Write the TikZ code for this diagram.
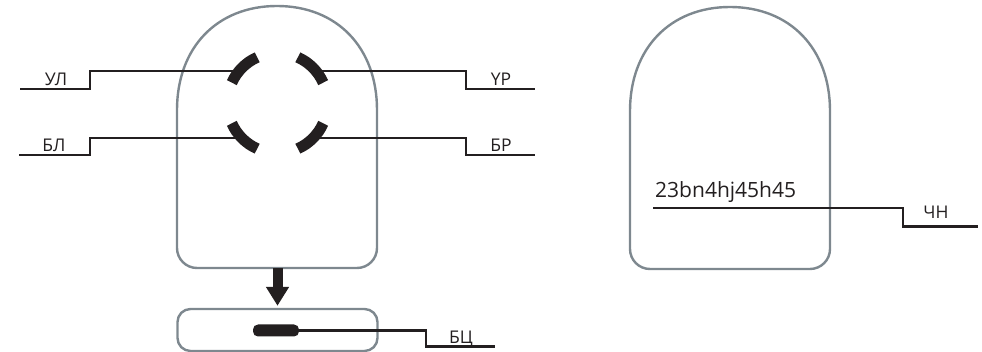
\documentclass[tikz,border=0pt]{standalone}
\usepackage{fontspec}
\setmainfont{Open Sans}
\usetikzlibrary{arrows.meta}
\definecolor{domegray}{HTML}{7E888F}
\definecolor{ink}{HTML}{231F20}
\begin{document}
\begin{tikzpicture}[x=1pt,y=-1pt,
  domeline/.style={draw=domegray,line width=2.4pt},
  wire/.style={draw=ink,line width=2.6pt,line join=miter},
  arcseg/.style={draw=ink,line width=11pt,line cap=butt},
  lbl/.style={font=\fontsize{17.5}{18}\selectfont,text=ink,inner sep=0pt,anchor=base},
  bigtext/.style={font=\fontsize{21}{22}\selectfont,text=ink,inner sep=0pt,anchor=base west},
  bigarrow/.style={draw=ink,line width=10pt,-{Triangle[length=19pt,width=22pt]}},
  domeshape/.pic={\draw[domeline] (-100,104) .. controls (-100,41.6) and (-60,0) .. (0,0) .. controls (60,0) and (100,41.6) .. (100,104) -- (100,242) arc[start angle=0,end angle=90,radius=20] -- (-80,262) arc[start angle=90,end angle=180,radius=20] -- cycle;}
]
\useasboundingbox (0,0) rectangle (982,352);

% domes
\pic at (277,6) {domeshape};
\pic at (730,7) {domeshape};

% coordinates
\coordinate (ctr) at (277.5,103);
\coordinate (ulA) at (20,89);
\coordinate (ulStep) at (90,89);
\coordinate (ulEnd) at (239,71);
\coordinate (blA) at (19,155);
\coordinate (blStep) at (90,155);
\coordinate (blEnd) at (241.5,138);
\coordinate (yrEnd) at (316,71);
\coordinate (yrStep) at (466,89);
\coordinate (yrA) at (535,89);
\coordinate (brEnd) at (313.5,138);
\coordinate (brStep) at (466,155);
\coordinate (brA) at (535,155);
\coordinate (domeLbot) at (277.5,268);
\coordinate (bcStep) at (426,346.5);
\coordinate (bcEnd) at (495,346.5);
\coordinate (chStart) at (653,208);
\coordinate (chStep) at (903,226.5);
\coordinate (chEnd) at (978,226.5);

% wires
\draw[wire] (ulA) -- (ulStep) |- (ulEnd);
\draw[wire] (blA) -- (blStep) |- (blEnd);
\draw[wire] (yrEnd) -| (yrStep) -- (yrA);
\draw[wire] (brEnd) -| (brStep) -- (brA);

% arc segments
\draw[arcseg] (ctr) ++(204:50) arc[start angle=204,end angle=246,radius=50];
\draw[arcseg] (ctr) ++(294:50) arc[start angle=294,end angle=336,radius=50];
\draw[arcseg] (ctr) ++(24:50) arc[start angle=24,end angle=66,radius=50];
\draw[arcseg] (ctr) ++(114:50) arc[start angle=114,end angle=156,radius=50];

% bottom box
\node[draw=domegray,line width=2.4pt,rounded corners=13pt,minimum width=200pt,minimum height=42pt,inner sep=0pt] (box) at (277.5,330) {};
\node[fill=ink,rounded corners=5pt,minimum width=46pt,minimum height=12pt,inner sep=0pt] (bar) at (276,330.5) {};
\draw[wire] (bar.east) -| (bcStep) -- (bcEnd);
\draw[bigarrow,shorten >=2pt] (domeLbot) -- (box.north);

% right dome wire
\draw[wire] (chStart) -| (chStep) -- (chEnd);

% labels
\node[lbl] (ul) at (56,85.5) {УЛ};
\node[lbl] (bl) at (54,151.5) {БЛ};
\node[lbl] (yr) at (501,86) {YP};
\node[lbl] (br) at (501,152) {БР};
\node[lbl] (bc) at (461,343.5) {БЦ};
\node[lbl] (ch) at (936,218.5) {ЧН};
\node[bigtext] (code) at (655,198) {23bn4hj45h45};
\end{tikzpicture}
\end{document}
